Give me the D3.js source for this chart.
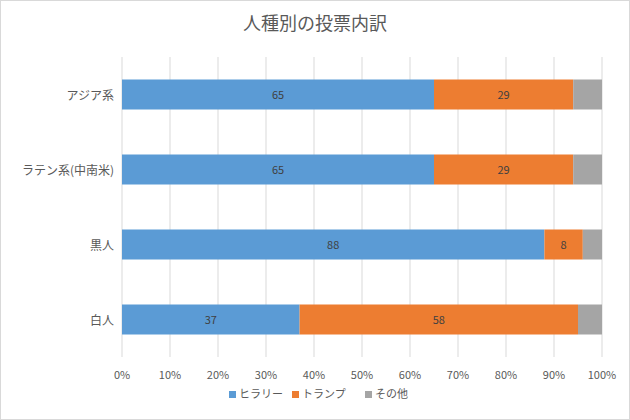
<!DOCTYPE html>
<html lang="ja">
<head>
<meta charset="UTF-8">
<title>人種別の投票内訳</title>
<style>
  body { margin: 0; background: #fff; }
  text { font-family: "Noto Sans CJK JP", "Noto Sans", sans-serif; }
</style>
</head>
<body>
<div id="chart"></div>
<script src="https://d3js.org/d3.v7.min.js"></script>
<script>
    // Chart data
    var categories = ["アジア系", "ラテン系(中南米)", "黒人", "白人"];
    var seriesNames = ["ヒラリー", "トランプ", "その他"];
    var hillary = [65, 65, 88, 37];
    var trump = [29, 29, 8, 58];
    var other = [6, 6, 4, 5];
    var ticks = [0, 10, 20, 30, 40, 50, 60, 70, 80, 90, 100];
    var colors = ["#5B9BD5", "#ED7D31", "#A5A5A5"];

    var width = 630, height = 420;
    var margin = {top: 57, right: 28, bottom: 63, left: 122};

    var svg = d3.select("#chart").append("svg")
        .attr("width", width).attr("height", height);

    svg.append("rect").attr("x", 0.5).attr("y", 0.5)
        .attr("width", width - 1).attr("height", height - 1)
        .attr("fill", "#fff").attr("stroke", "#d9d9d9");

    var x = d3.scaleLinear().domain([0, 100]).range([margin.left, width - margin.right]);
    var y = d3.scaleBand().domain(categories)
        .range([margin.top, height - margin.bottom])
        .paddingInner(0.6).paddingOuter(0.3);

    // Title
    svg.append("text").attr("x", width / 2).attr("y", 30)
        .attr("text-anchor", "middle").attr("font-size", 18).attr("fill", "#595959")
        .text("人種別の投票内訳");

    // Gridlines
    svg.append("g").selectAll("line").data(ticks).enter().append("line")
        .attr("x1", d => x(d)).attr("x2", d => x(d))
        .attr("y1", margin.top).attr("y2", height - margin.bottom)
        .attr("stroke", "#d9d9d9");

    // Stack data
    var rows = categories.map((c, i) => ({cat: c, s0: hillary[i], s1: trump[i], s2: other[i]}));
    var stack = d3.stack().keys(["s0", "s1", "s2"])(rows);

    stack.forEach(function(layer, li) {
        var g = svg.append("g");
        g.selectAll("rect").data(layer).enter().append("rect")
            .attr("x", d => x(d[0]))
            .attr("width", d => x(d[1]) - x(d[0]))
            .attr("y", d => y(d.data.cat))
            .attr("height", y.bandwidth())
            .attr("fill", colors[li]);
        if (li < 2) {
            g.selectAll("text").data(layer).enter().append("text")
                .attr("x", d => (x(d[0]) + x(d[1])) / 2)
                .attr("y", d => y(d.data.cat) + y.bandwidth() / 2 + 4)
                .attr("text-anchor", "middle").attr("font-size", 11).attr("fill", "#404040")
                .text(d => d[1] - d[0]);
        }
    });

    // Category labels
    svg.append("g").selectAll("text").data(categories).enter().append("text")
        .attr("x", margin.left - 8).attr("y", d => y(d) + y.bandwidth() / 2 + 5)
        .attr("text-anchor", "end").attr("font-size", 12).attr("fill", "#595959")
        .text(d => d);

    // X tick labels
    svg.append("g").selectAll("text").data(ticks).enter().append("text")
        .attr("x", d => x(d)).attr("y", height - margin.bottom + 22)
        .attr("text-anchor", "middle").attr("font-size", 11).attr("fill", "#595959")
        .text(d => d + "%");

    // Legend
    var legendX = [229, 292, 365];
    var lg = svg.append("g").selectAll("g").data(seriesNames).enter().append("g")
        .attr("transform", (d, i) => "translate(" + legendX[i] + ",398)");
    lg.append("rect").attr("x", 0).attr("y", -7).attr("width", 7).attr("height", 7)
        .attr("fill", (d, i) => colors[i]);
    lg.append("text").attr("x", 10).attr("y", 0).attr("font-size", 11).attr("fill", "#595959")
        .text(d => d);
</script>
</body>
</html>
